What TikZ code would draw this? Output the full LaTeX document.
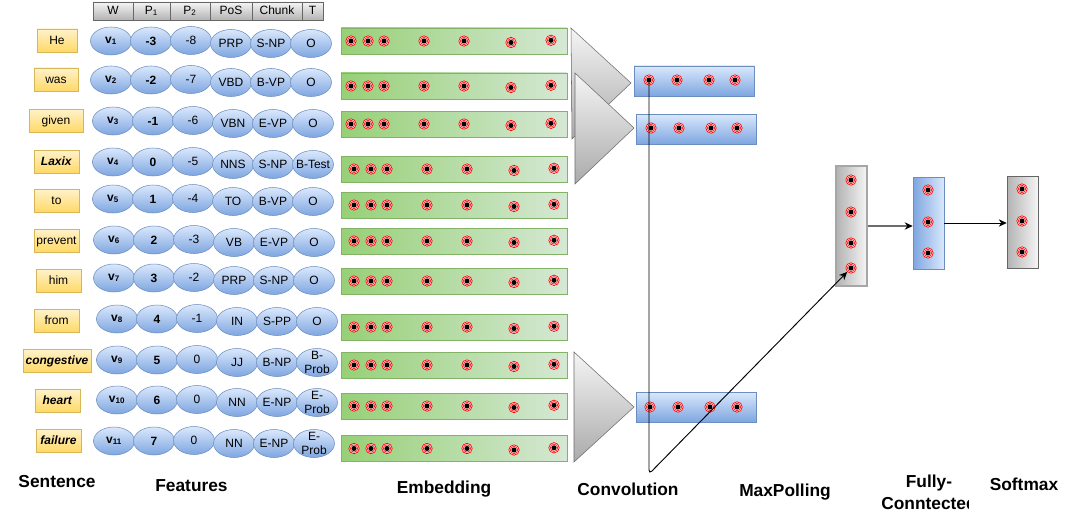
\documentclass[tikz,border=0pt]{standalone}
\usepackage{fontspec}
\setmainfont{Liberation Sans}
\usetikzlibrary{shapes.geometric,arrows.meta,calc}
\definecolor{wtop}{HTML}{FFF2CC}
\definecolor{wbot}{HTML}{FFD966}
\definecolor{wbrd}{HTML}{D6B656}
\definecolor{btop}{HTML}{DAE8FC}
\definecolor{bbot}{HTML}{7EA6E0}
\definecolor{bbrd}{HTML}{6C8EBF}
\definecolor{glight}{HTML}{D5E8D4}
\definecolor{gdark}{HTML}{97D077}
\definecolor{gbrd}{HTML}{82B366}
\definecolor{gylight}{HTML}{F5F5F5}
\definecolor{gydark}{HTML}{B3B3B3}
\definecolor{gybrd}{HTML}{666666}
\tikzset{
 word/.style={draw=wbrd, top color=wtop, bottom color=wbot, minimum height=17.25pt, inner sep=1pt, text height=7pt, text depth=1.4pt, font=\fontsize{9}{10}\selectfont},
 featshape/.style={ellipse, draw=bbrd, top color=btop, bottom color=bbot, minimum width=30.75pt, minimum height=21pt, inner sep=0pt},
 feattext/.style={inner sep=0pt, font=\fontsize{9}{10.2}\selectfont, align=center},
 hdr/.style={draw=gybrd, top color=gylight, bottom color=gydark, minimum height=13.5pt, inner sep=0pt, text height=6.8pt, text depth=1.6pt, font=\fontsize{9}{10}\selectfont},
 emb/.style={draw=gbrd, left color=gdark, right color=glight, minimum width=169.5pt, minimum height=19.5pt, inner sep=0pt},
 convbox/.style={draw=bbrd, top color=btop, bottom color=bbot, minimum width=90pt, minimum height=22.5pt, inner sep=0pt},
 tallbox/.style={minimum width=23.25pt, minimum height=69pt, inner sep=0pt},
 tri/.style={draw=gray!85!black, top color=gylight, bottom color=gydark!95!black},
 dotnode/.style={circle, draw=red, line width=0.5pt, fill=red!8, minimum size=7.8pt, inner sep=0pt,
   path picture={\draw[red!90, line width=0.5pt] (path picture bounding box.center) circle (2.75pt);
                 \fill[black] (path picture bounding box.center) circle (1.9pt);}},
 conn/.style={line width=0.6pt, -{Stealth[length=6pt,width=5.5pt]}},
 lbl/.style={font=\bfseries\fontsize{13}{16.5}\selectfont, inner sep=0pt, align=center},
}
\newcommand\featrow[9]{%
 \node[featshape] (f#1a) at (#2,#3) {};
 \node[feattext] (t#1a) at (f#1a) {\textbf{#4}};
 \node[featshape] (f#1b) at (#2+40,#3) {};
 \node[feattext] (t#1b) at (f#1b) {\textbf{#5}};
 \node[featshape] (f#1c) at (#2+80,#3-0.5) {};
 \node[feattext] (t#1c) at (f#1c) {#6};
 \node[featshape] (f#1d) at (#2+120,#3+2.5) {};
 \node[feattext] (t#1d) at (f#1d) {#7};
 \node[featshape] (f#1e) at (#2+160,#3+2.5) {};
 \node[feattext] (t#1e) at (f#1e) {#8};
 \node[featshape] (f#1f) at (#2+200,#3+2.5) {};
 \node[feattext] (t#1f) at (f#1f) {#9};
}
\begin{document}
\begin{tikzpicture}[x=0.75pt,y=-0.75pt]
\useasboundingbox (0,0) rectangle (1074,528);

% header
\node[hdr, minimum width=30pt] (hW) at (113,11) {W};
\node[hdr, minimum width=27.75pt] (hP1) at (151.5,11) {P\textsubscript{1}};
\node[hdr, minimum width=30pt] (hP2) at (190,11) {P\textsubscript{2}};
\node[hdr, minimum width=31.5pt] (hPoS) at (231,11) {PoS};
\node[hdr, minimum width=37.5pt] (hCh) at (277,11) {Chunk};
\node[hdr, minimum width=15.75pt] (hT) at (312.5,11) {T};

% sentence words
\node[word, minimum width=30pt] (w1) at (57,40.5) {He};
\node[word, minimum width=33pt] (w2) at (56,79.5) {was};
\node[word, minimum width=40.5pt] (w3) at (56,120.5) {given};
\node[word, minimum width=33.75pt] (w4) at (56.5,161.5) {\textbf{\textit{Laxix}}};
\node[word, minimum width=33.75pt] (w5) at (56.5,200.5) {to};
\node[word, minimum width=33.75pt] (w6) at (56.5,240.5) {prevent};
\node[word, minimum width=33.75pt] (w7) at (58.5,280.5) {him};
\node[word, minimum width=33.75pt] (w8) at (56.5,320.5) {from};
\node[word, minimum width=51pt] (w9) at (57,360.5) {\textbf{\textit{congestive}}};
\node[word, minimum width=33.75pt] (w10) at (57.5,400.5) {\textbf{\textit{heart}}};
\node[word, minimum width=33.75pt] (w11) at (58.5,440.5) {\textbf{\textit{failure}}};

% features
\featrow{1}{111}{41}{v\textsubscript{1}}{-3}{-8}{PRP}{S-NP}{O}
\featrow{2}{111}{80}{v\textsubscript{2}}{-2}{-7}{VBD}{B-VP}{O}
\featrow{3}{113}{121}{v\textsubscript{3}}{-1}{-6}{VBN}{E-VP}{O}
\featrow{4}{113}{162}{v\textsubscript{4}}{0}{-5}{NNS}{S-NP}{B-Test}
\featrow{5}{113}{199}{v\textsubscript{5}}{1}{-4}{TO}{B-VP}{O}
\featrow{6}{114}{240}{v\textsubscript{6}}{2}{-3}{VB}{E-VP}{O}
\featrow{7}{114}{278}{v\textsubscript{7}}{3}{-2}{PRP}{S-NP}{O}
\featrow{8}{117}{319}{v\textsubscript{8}}{4}{-1}{IN}{S-PP}{O}
\featrow{9}{117}{360}{v\textsubscript{9}}{5}{0}{JJ}{B-NP}{B-\\Prob}
\featrow{10}{117}{400}{v\textsubscript{10}}{6}{0}{NN}{E-NP}{E-\\Prob}
\featrow{11}{114}{441}{v\textsubscript{11}}{7}{0}{NN}{E-NP}{E-\\Prob}

% embedding
\foreach \i/\y/\dx in {1/41/0,2/86/0,3/124/0,4/169/3,5/205/3,6/241/3,7/281/3,8/327/3,9/365/3,10/406/3,11/448.5/3}{
  \node[emb] (e\i) at (454,\y) {};
  \foreach \x/\o [count=\k] in {351/0,368/0,384/0,424/0,464/0,511/1.5,551/-0.7}{
    \node[dotnode] (e\i-\k) at (\x+\dx,\y+\o) {};
  }
}

% convolution filters
\shadedraw[tri] (571,28) -- (631,83) -- (572,139) -- cycle;
\shadedraw[tri] (575,73) -- (634,128) -- (575,184) -- cycle;
\shadedraw[tri] (574,352) -- (634,407) -- (574,462) -- cycle;

% convolution outputs
\node[convbox] (c1) at (694,81) {};
\node[convbox] (c2) at (696.5,129) {};
\node[convbox] (c3) at (696.5,407) {};
\foreach \x [count=\k] in {649,677,709,735}{\node[dotnode] (c1-\k) at (\x,80) {};}
\foreach \x [count=\k] in {651,679,711,737}{\node[dotnode] (c2-\k) at (\x,128) {};}
\foreach \x [count=\k] in {650,678,710,737}{\node[dotnode] (c3-\k) at (\x,407) {};}

% max pooling, fully connected, softmax
\node[draw=gray!70, line width=1.3pt, left color=gydark, right color=gylight, tallbox, minimum height=90pt] (mp) at (851.5,226) {};
\foreach \y [count=\k] in {180,212,243,268}{\node[dotnode] (mp-\k) at (851,\y) {};}
\node[draw=bbrd, left color=bbot, right color=btop, tallbox] (fc) at (928.5,223) {};
\foreach \y [count=\k] in {190,222,253}{\node[dotnode] (fc-\k) at (928,\y) {};}
\node[draw=gybrd, left color=gydark, right color=gylight, tallbox] (sm) at (1022.5,222) {};
\foreach \y [count=\k] in {189,221,252}{\node[dotnode] (sm-\k) at (1022,\y) {};}

% connectors
\coordinate (bend) at (649,474);
\draw[conn, line width=0.7pt, rounded corners=3pt] (c1-1.center) -- (bend) -- (mp-4);
\draw[line width=1.2pt, gray!85!black, -{Stealth[length=6pt,width=5.5pt,black]}] (mp.east) -- (mp.east -| fc.west);
\draw[conn] (fc.east) -- (fc.east -| sm.west);

% labels
\node[lbl] (lsen) at (57,481.5) {Sentence};
\node[lbl] (lfeat) at (191.5,485.5) {Features};
\node[lbl] (lemb) at (444,489.5) {Embedding};
\node[lbl] (lconv) at (628,489) {Convolution};
\node[lbl] (lmp) at (785,492.5) {MaxPolling};
\begin{scope}
\clip (860,460) rectangle (968,520);
\node[lbl] (lfc) at (929,492.5) {Fully-\\Conntected};
\end{scope}
\node[lbl] (lsm) at (1024,484) {Softmax};
\end{tikzpicture}
\end{document}
